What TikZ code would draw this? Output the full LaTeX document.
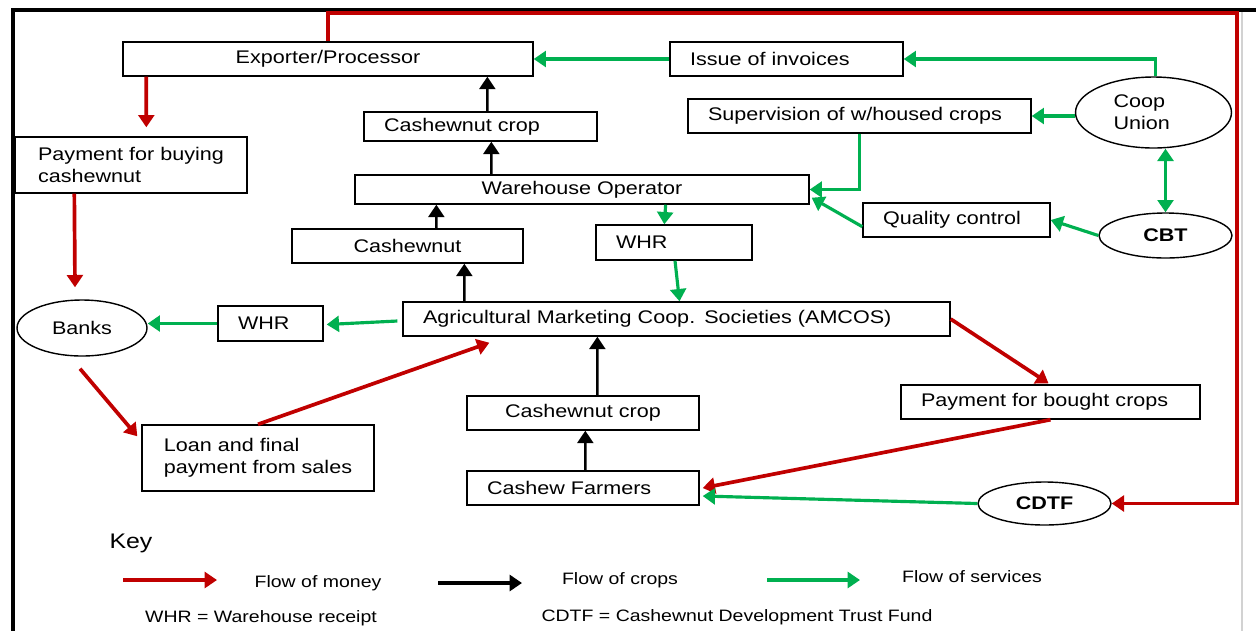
\documentclass[tikz,border=0pt]{standalone}
\usepackage{fontspec}
\setmainfont{Liberation Sans}[FakeStretch=1.18]
\usetikzlibrary{arrows.meta, calc, shapes.geometric}

\begin{document}
\begin{tikzpicture}[x=0.02cm, y=-0.02cm, >={Triangle[length=7pt, width=9pt]},
  font=\fontsize{10.4}{12.5}\selectfont,
  box/.style={draw, line width=0.8pt, inner sep=0pt},
  lbox/.style={box, align=left, inner xsep=0.4cm},
  oval/.style={draw, ellipse, line width=0.8pt, inner sep=0pt},
  money/.style={->, line width=2.1pt, moneyred},
  crop/.style={->, line width=1.4pt, black},
  service/.style={->, line width=1.8pt, servgreen},
  keytext/.style={font=\fontsize{9.4}{11}\selectfont}]
  % colours
  \definecolor{moneyred}{RGB}{192,0,0}
  \definecolor{servgreen}{RGB}{0,176,80}
  \useasboundingbox (0,0) rectangle (1256,630);

  % frame
  \draw[line width=2.2pt] (13,632) -- (13,10) -- (1258,10);
  \draw[gray!35, line width=0.6pt] (1242,12) -- (1242,632);

  % top part
  \node[box, minimum width=8.2cm, minimum height=0.68cm] (exp) at (328,59) {Exporter/Processor};
  \node[lbox, text width=3.86cm, minimum height=0.68cm] (inv) at (786.5,59) {Issue of invoices};
  \node[lbox, text width=3.86cm, minimum height=0.58cm] (crop1) at (480.5,126.5) {Cashewnut crop};
  \node[lbox, text width=6.06cm, minimum height=0.68cm] (sup) at (859.5,116) {Supervision of w/housed crops};
  \node[oval, align=left, text width=1.6cm, minimum width=3.12cm, minimum height=1.42cm] (coop) at (1153.5,112.5) {Coop\\Union};
  \node[box, align=left, minimum width=4.64cm, minimum height=1.12cm] (pay1) at (131,165) {Payment for buying\\cashewnut};
  \node[box, minimum width=9.08cm, minimum height=0.58cm] (whop) at (582,189.5) {Warehouse Operator};
  \node[lbox, text width=2.94cm, minimum height=0.68cm] (qc) at (956.5,220) {Quality control};
  \node[oval, font=\fontsize{10.4}{12.5}\selectfont\bfseries, minimum width=2.66cm, minimum height=0.9cm] (cbt) at (1165.5,235.5) {CBT};

  % middle part
  \node[box, minimum width=4.62cm, minimum height=0.68cm] (nut) at (407.5,246) {Cashewnut};
  \node[lbox, text width=2.32cm, minimum height=0.7cm] (whr1) at (674,242.5) {WHR};
  \node[oval, minimum width=2.6cm, minimum height=1.12cm] (banks) at (82,328) {Banks};
  \node[lbox, text width=1.3cm, minimum height=0.7cm] (whr2) at (270.5,323.5) {WHR};
  \node[lbox, text width=10.14cm, minimum height=0.68cm] (amcos) at (676.5,319) {Agricultural Marketing Coop. Societies (AMCOS)};

  % bottom part
  \node[box, align=left, minimum width=4.64cm, minimum height=1.32cm] (loan) at (258,458) {Loan and final\\payment from sales};
  \node[box, minimum width=4.64cm, minimum height=0.68cm] (crop2) at (583,413) {Cashewnut crop};
  \node[lbox, text width=5.18cm, minimum height=0.68cm] (pay2) at (1050.5,402) {Payment for bought crops};
  \node[lbox, text width=3.84cm, minimum height=0.68cm] (farm) at (583,488) {Cashew Farmers};
  \node[oval, font=\fontsize{10.4}{12.5}\selectfont\bfseries, minimum width=2.66cm, minimum height=0.86cm] (cdtf) at (1044.5,503.5) {CDTF};

  % flow of money
  \coordinate (corner) at (1237,13);
  \draw[money] ($(exp.south west)+(24,0)$) -- ($(pay1.north west)+(132,-9)$);
  \draw[money] ($(pay1.south west)+(60,0)$) -- ($(banks.north)+(-7,-12)$);
  \draw[money] ($(banks.south)+(-2,12)$) -- ($(loan.north west)+(-4,12)$);
  \draw[money] (loan.north) -- ($(amcos.south west)+(87,6)$);
  \draw[money] (amcos.east) -- ($(pay2.north)+(-2,-1)$);
  \draw[money] (pay2.south) -- ($(farm.east)+(3,0)$);
  \draw[money] (exp.north) |- (corner) |- (cdtf.east);

  % flow of crops
  \draw[crop] ($(crop1.north west)+(124,0)$) -- ($(exp.south west)+(365,0)$);
  \draw[crop] ($(whop.north west)+(137,0)$) -- ($(crop1.south west)+(128,0)$);
  \draw[crop] ($(nut.north west)+(145,0)$) -- ($(whop.south west)+(82,0)$);
  \draw[crop] ($(amcos.north west)+(62,0)$) -- ($(nut.south west)+(173,0)$);
  \draw[crop] ($(crop2.north west)+(131,0)$) -- ($(amcos.south west)+(195,0)$);
  \draw[crop] ($(farm.north west)+(119,0)$) -- ($(crop2.south west)+(119,0)$);

  % flow of services
  \draw[service] (inv.west) -- (exp.east);
  \draw[service] ($(coop.north)+(2,0)$) |- (inv.east);
  \draw[service] (coop.west |- sup.east) -- (sup.east);
  \draw[service] (sup.south) |- (whop.east);
  \draw[service] ($(qc.south west)+(0,-11)$) -- ($(whop.south east)+(2,-7)$);
  \draw[service] (cbt.west) -- (qc.east);
  \draw[service, <->] (cbt.north |- coop.south) -- (cbt.north);
  \draw[service] ($(whop.south east)+(-144,0)$) -- ($(whr1.north west)+(69,0)$);
  \draw[service] ($(whr1.south)+(1,0)$) -- ($(amcos.north)+(3,0)$);
  \draw[service] ($(amcos.west)+(-5,2)$) -- ($(whr2.east)+(3,1)$);
  \draw[service] (whr2.west) -- (banks.east |- whr2.west);
  \draw[service] (cdtf.west) -- ($(farm.east)+(3,8)$);

  % key
  \node[font=\fontsize{12}{14}\selectfont] (key) at (131,543) {Key};
  \node[keytext] (lmoney) at (318,583) {Flow of money};
  \node[keytext] (lcrops) at (620,580) {Flow of crops};
  \node[keytext] (lserv) at (972,577) {Flow of services};
  \node[keytext] (lwhr) at (261,618) {WHR = Warehouse receipt};
  \node[keytext] (lcdtf) at (737,617) {CDTF = Cashewnut Development Trust Fund};
  \coordinate (m1) at (123,580);
  \coordinate (m2) at (217,580);
  \coordinate (c1) at (438,583);
  \coordinate (c2) at (522,583);
  \coordinate (s1) at (767,580);
  \coordinate (s2) at (860,580);
  \draw[money] (m1) -- (m2);
  \draw[crop, line width=1.8pt] (c1) -- (c2);
  \draw[service] (s1) -- (s2);

\end{tikzpicture}
\end{document}
